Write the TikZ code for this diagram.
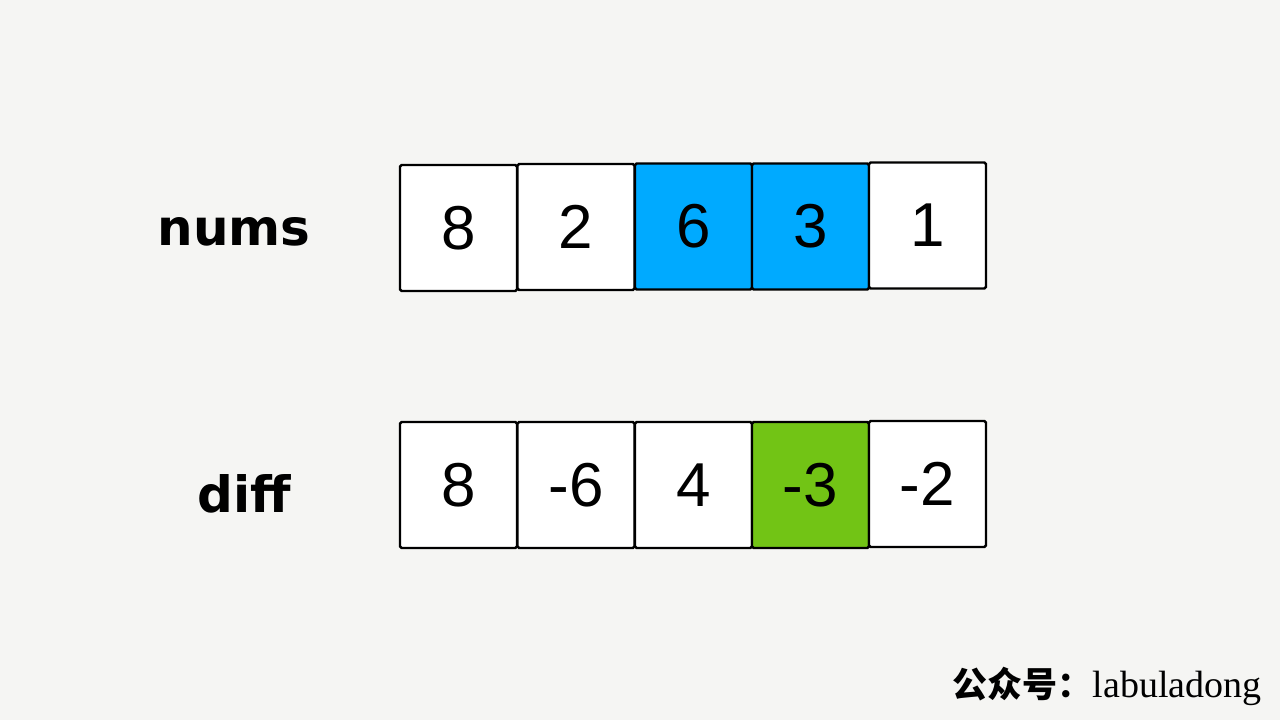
\documentclass[tikz,border=0pt]{standalone}
\usepackage{fontspec}
\setmainfont{Liberation Sans}
\newfontfamily\cjk{Noto Sans CJK SC}
\newfontfamily\wmserif{Liberation Serif}
\newfontfamily\lblfont{DejaVu Sans}
\definecolor{bgc}{HTML}{F5F5F3}
\definecolor{bluec}{HTML}{00AAFF}
\definecolor{greenc}{HTML}{72C415}
\tikzset{
  cell/.style={draw=black, line width=1.2pt, fill=white, minimum width=58.5pt, minimum height=63pt, inner sep=0pt, font=\fontsize{31}{31}\selectfont, rounded corners=0.8pt},
  lbl/.style={font=\lblfont\bfseries\fontsize{25}{25}\selectfont, inner sep=0pt},
}
\begin{document}
\begin{tikzpicture}[x=0.5pt,y=-0.5pt]
\fill[bgc] (0,0) rectangle (1280,720);
\useasboundingbox (0,0) rectangle (1280,720);
% nums row
\node[cell] (n0) at (458.5,228) {8};
\node[cell] (n1) at (576,227) {2};
\node[cell, fill=bluec] (n2) at (693.5,226.5) {6};
\node[cell, fill=bluec] (n3) at (810.5,226.5) {3};
\node[cell] (n4) at (927.5,225.5) {1};
% diff row
\node[cell] (d0) at (458.5,485) {8};
\node[cell] (d1) at (576,485) {-6};
\node[cell] (d2) at (693.5,485) {4};
\node[cell, fill=greenc] (d3) at (810.5,485) {-3};
\node[cell] (d4) at (927.5,484) {-2};
% labels
\node[lbl, anchor=base west] (lnums) at (157,245) {nums};
\node[lbl, anchor=base west] (ldiff) at (197,512) {diff};
% watermark
\node[anchor=base east, inner sep=0pt] (wm) at (1262,697) {{\cjk\bfseries\fontsize{17.5}{17.5}\selectfont 公众号：}{\wmserif\fontsize{19}{19}\selectfont labuladong}};
\end{tikzpicture}
\end{document}
